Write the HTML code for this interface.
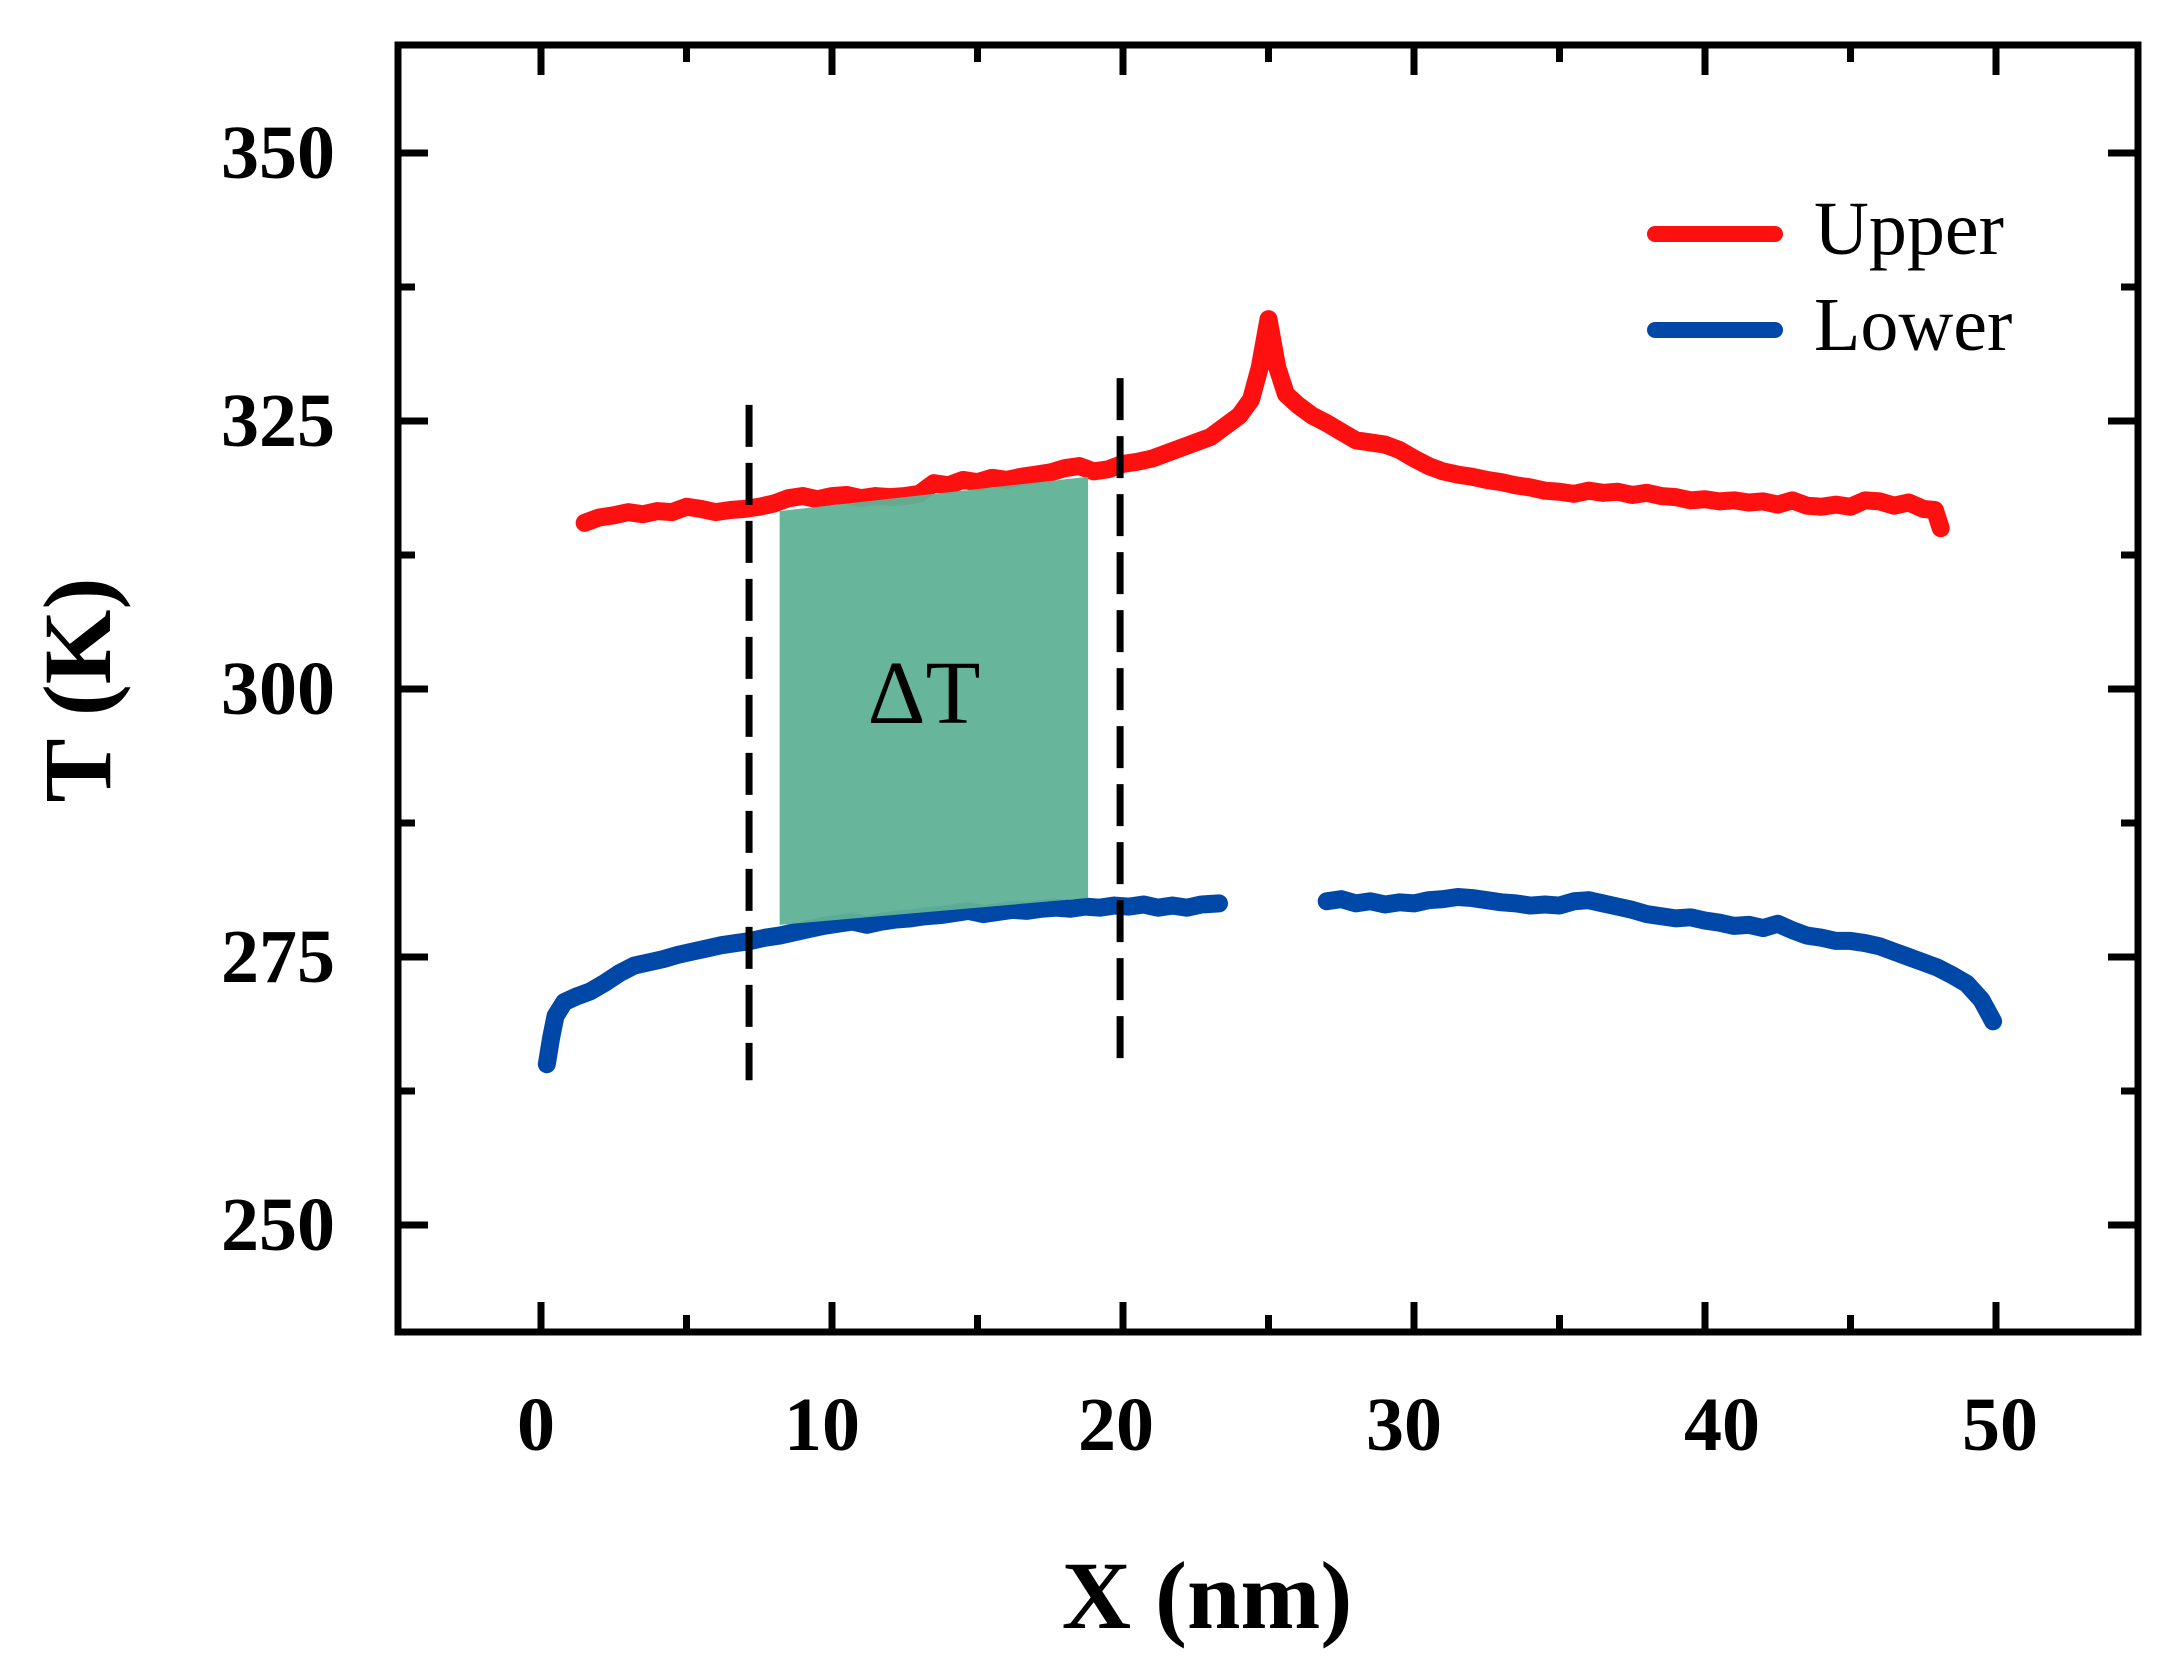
<!DOCTYPE html>
<html><head><meta charset="utf-8"><style>
html,body{margin:0;padding:0;background:#fff;}
svg{display:block;}
text{font-family:"Liberation Serif",serif;fill:#000;}
</style></head><body>
<svg width="2174" height="1666" viewBox="0 0 2174 1666" xmlns="http://www.w3.org/2000/svg">
<g transform="matrix(29.1 0 0 -10.72 541 3905)" fill="none" stroke-linejoin="round" stroke-linecap="round">
<polyline vector-effect="non-scaling-stroke" stroke="#ff1010" stroke-width="18" points="1.5,315.5 2,316 2.5,316.2 3,316.5 3.5,316.3 4,316.6 4.5,316.5 5,317 5.5,316.8 6,316.5 6.5,316.7 7,316.8 7.5,317 8,317.3 8.5,317.8 9,318 9.5,317.7 10,318 10.5,318.1 11,317.8 11.5,318 12,317.9 12.5,318 13,318.2 13.5,319.2 14,319 14.5,319.5 15,319.3 15.5,319.7 16,319.5 16.5,319.8 17,320 17.5,320.2 18,320.6 18.5,320.8 19,320.3 19.5,320.5 20,321 20.5,321.2 21,321.5 21.5,322 22,322.5 22.5,323 23,323.5 23.5,324.5 24,325.5 24.4,327 24.7,330 25,334.5 25.3,330 25.6,327.5 26,326.5 26.5,325.5 27,324.8 27.5,324 28,323.2 28.5,323 29,322.8 29.5,322.3 30,321.5 30.5,320.8 31,320.3 31.5,320 32,319.8 32.5,319.5 33,319.3 33.5,319 34,318.8 34.5,318.5 35,318.4 35.5,318.2 36,318.5 36.5,318.3 37,318.4 37.5,318.1 38,318.3 38.5,318 39,317.9 39.5,317.6 40,317.7 40.5,317.5 41,317.6 41.5,317.4 42,317.5 42.5,317.2 43,317.6 43.5,317.1 44,317 44.5,317.2 45,317 45.5,317.6 46,317.5 46.5,317.1 47,317.4 47.5,316.8 47.9,316.7 48.1,315"/>
<polyline vector-effect="non-scaling-stroke" stroke="#0048a8" stroke-width="18" points="0.2,265 0.35,267.5 0.5,269.5 0.8,270.8 1.2,271.3 1.7,271.8 2.2,272.6 2.7,273.5 3.2,274.2 3.7,274.5 4.2,274.8 4.7,275.2 5.2,275.5 5.7,275.8 6.2,276.1 6.7,276.3 7.2,276.5 7.7,276.8 8.2,277 8.7,277.3 9.2,277.6 9.7,277.9 10.2,278.1 10.7,278.3 11.2,278 11.7,278.3 12.2,278.5 12.7,278.6 13.2,278.8 13.7,278.9 14.2,279.1 14.7,279.3 15.2,279 15.7,279.2 16.2,279.4 16.7,279.3 17.2,279.5 17.7,279.6 18.2,279.5 18.7,279.7 19.2,279.6 19.7,279.8 20.2,279.7 20.7,279.9 21.2,279.6 21.7,279.8 22.2,279.6 22.7,279.9 23.3,280"/>
<polyline vector-effect="non-scaling-stroke" stroke="#0048a8" stroke-width="18" points="27,280.2 27.5,280.4 28,280 28.5,280.2 29,279.9 29.5,280.1 30,280 30.5,280.3 31,280.4 31.5,280.6 32,280.5 32.5,280.3 33,280.1 33.5,280 34,279.8 34.5,279.9 35,279.8 35.5,280.2 36,280.3 36.5,280 37,279.7 37.5,279.4 38,279 38.5,278.8 39,278.6 39.5,278.7 40,278.4 40.5,278.2 41,277.9 41.5,278 42,277.7 42.5,278.1 43,277.5 43.5,277 44,276.8 44.5,276.5 45,276.5 45.5,276.3 46,276 46.5,275.5 47,275 47.5,274.5 48,274 48.5,273.3 49,272.5 49.5,271 49.9,269"/>
<polygon points="8.2,316.6 18.8,319.8 18.8,280.5 8.2,278" fill="#5fb296" fill-opacity="0.95" stroke="none"/>
<line vector-effect="non-scaling-stroke" x1="7.15" y1="326.5" x2="7.15" y2="263.5" stroke="#000" stroke-width="7" stroke-dasharray="42 16" stroke-linecap="butt"/>
<line vector-effect="non-scaling-stroke" x1="19.9" y1="329" x2="19.9" y2="265" stroke="#000" stroke-width="7" stroke-dasharray="42 16" stroke-linecap="butt"/>
</g>
<text x="924" y="723" font-size="90" text-anchor="middle">ΔT</text>
<rect x="398" y="45" width="1740" height="1287" fill="none" stroke="#000" stroke-width="7"/>
<g stroke="#000" stroke-width="7">
<path d="M541 1332v-30M832 1332v-30M1123 1332v-30M1414 1332v-30M1705 1332v-30M1996 1332v-30M541 45v30M832 45v30M1123 45v30M1414 45v30M1705 45v30M1996 45v30"/>
<path d="M686.5 1332v-17M977.5 1332v-17M1268.5 1332v-17M1559.5 1332v-17M1850.5 1332v-17M686.5 45v17M977.5 45v17M1268.5 45v17M1559.5 45v17M1850.5 45v17"/>
<path d="M398 1225h30M398 957h30M398 689h30M398 421h30M398 153h30M2138 1225h-30M2138 957h-30M2138 689h-30M2138 421h-30M2138 153h-30"/>
<path d="M398 1091h17M398 823h17M398 555h17M398 287h17M2138 1091h-17M2138 823h-17M2138 555h-17M2138 287h-17"/>
</g>
<g font-size="76" font-weight="bold" text-anchor="end">
<text x="335" y="178">350</text>
<text x="335" y="446">325</text>
<text x="335" y="714">300</text>
<text x="335" y="982">275</text>
<text x="335" y="1250">250</text>
</g>
<g font-size="76" font-weight="bold" text-anchor="middle">
<text x="536" y="1450">0</text>
<text x="822" y="1450">10</text>
<text x="1116" y="1450">20</text>
<text x="1404" y="1450">30</text>
<text x="1722" y="1450">40</text>
<text x="2000" y="1450">50</text>
</g>
<text x="1207" y="1628" font-size="96" font-weight="bold" text-anchor="middle">X (nm)</text>
<text transform="translate(110 690) rotate(-90)" font-size="96" font-weight="bold" text-anchor="middle">T (K)</text>
<line x1="1655" y1="234" x2="1775" y2="234" stroke="#ff1010" stroke-width="16" stroke-linecap="round"/>
<line x1="1655" y1="330" x2="1775" y2="330" stroke="#0048a8" stroke-width="16" stroke-linecap="round"/>
<text x="1814" y="254" font-size="76">Upper</text>
<text x="1814" y="350" font-size="76">Lower</text>
</svg>
</body></html>
